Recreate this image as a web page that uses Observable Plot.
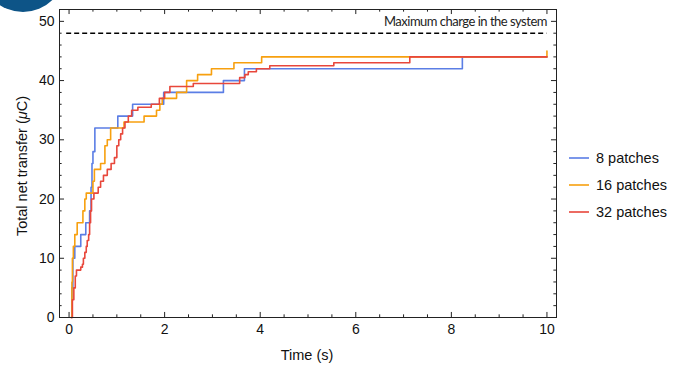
<!DOCTYPE html>
<html><head><meta charset="utf-8">
<script src="https://cdn.jsdelivr.net/npm/d3@7"></script>
<script src="https://cdn.jsdelivr.net/npm/@observablehq/plot@0.6"></script>
<style>
body{margin:0;background:#fff;}
#wrap{position:relative;width:683px;height:365px;overflow:hidden;font-family:"Liberation Sans",Arial,sans-serif;}
#badge{position:absolute;left:-19px;top:-72px;width:84px;height:84px;border-radius:50%;background:#0d5487;z-index:2;}
#legend{position:absolute;left:569px;top:144px;font-size:14.5px;color:#111;}
#legend .row{height:27px;display:flex;align-items:center;}
#legend svg{margin-right:7px;}
</style></head><body><div id="wrap"><div id="badge"></div><div id="legend"></div></div>
<script>
// ---- data ----
const seriesNames = ["8 patches", "16 patches", "32 patches"];
const seriesColors = ["#5b7ee5", "#f7a00f", "#e8473b"];

const blueT = [0.05,0.06,0.08,0.12,0.245,0.35,0.43,0.46,0.48,0.50,0.54,1.02,1.33,1.98,3.23,3.67,8.23,10];
const blueV = [0,5,10,12,14,16,18,22,26,28,32,34,36,38,40,42,44,44];

const orangeT = [0.05,0.06,0.07,0.09,0.12,0.17,0.29,0.33,0.36,0.50,0.53,0.66,0.75,0.80,0.87,1.15,1.57,1.83,1.90,1.95,2.25,2.46,2.69,2.98,3.45,4.03,10];
const orangeV = [0,6,10,12,14,16,18,20,21,23,25,26,29,30,32,33,34,35,36,37,38,40,41,42,43,44,45];

const redT = [0.04,0.07,0.10,0.13,0.155,0.245,0.28,0.30,0.33,0.36,0.38,0.41,0.43,0.45,0.47,0.52,0.61,0.66,0.72,0.80,0.88,0.95,1.00,1.04,1.08,1.12,1.17,1.24,1.31,1.44,1.72,1.89,2.00,2.11,2.60,3.57,3.68,3.75,3.92,4.20,5.54,7.13,10];
const redV = [0,3,5,7,8,8.5,9,10,11,12,13,14,16,18,20,21,22,23,24,25,26,27,29,30,31,32,33,34,35,35.5,36,37,38,39,39.5,40.5,41,41.5,42,42.5,43,44,44];

const maxCharge = 48;
const maxLabel = "Maximum charge in the system";
const xMajor = [0,2,4,6,8,10];
const yMajor = [0,10,20,30,40,50];
const xMinor = d3.range(0, 10.01, 0.5).filter(v => v % 2 !== 0);
const yMinor = d3.range(0, 52.01, 2).filter(v => v % 10 !== 0);

// ---- build table ----
const rows = [];
[[blueT, blueV], [orangeT, orangeV], [redT, redV]].forEach(([T, V], i) => {
  T.forEach((t, j) => rows.push({t, v: V[j], series: seriesNames[i]}));
});

const xDom = [-0.2, 10.2], yDom = [0, 52];
const majLenY = 0.85, minLenY = 0.45;   // tick lengths in y units (vertical ticks)
const majLenX = 0.105, minLenX = 0.055; // tick lengths in x units (horizontal ticks)

const chart = Plot.plot({
  width: 683, height: 365,
  marginLeft: 59, marginRight: 127, marginTop: 9, marginBottom: 48,
  style: {fontFamily: '"Liberation Sans", Arial, sans-serif', fontSize: "14px", color: "#111", background: "transparent"},
  x: {domain: xDom},
  y: {domain: yDom},
  color: {domain: seriesNames, range: seriesColors},
  marks: [
    Plot.line(rows, {x: "t", y: "v", stroke: "series", curve: "step-after", strokeWidth: 1.6}),
    Plot.ruleY([maxCharge], {stroke: "#000", strokeWidth: 1.6, strokeDasharray: "5,3", x1: -0.05, x2: 10.0}),
    Plot.text([maxLabel], {x: 10, y: maxCharge, dy: -11, textAnchor: "end", fontFamily: "Lato", fontSize: 13, fill: "#222"}),
    // bottom / top ticks
    Plot.ruleX(xMajor, {x: d => d, y1: 0, y2: majLenY, stroke: "#222"}),
    Plot.ruleX(xMinor, {x: d => d, y1: 0, y2: minLenY, stroke: "#222"}),
    Plot.ruleX(xMajor, {x: d => d, y1: yDom[1], y2: yDom[1] - majLenY, stroke: "#222"}),
    Plot.ruleX(xMinor, {x: d => d, y1: yDom[1], y2: yDom[1] - minLenY, stroke: "#222"}),
    // left / right ticks
    Plot.ruleY(yMajor, {y: d => d, x1: xDom[0], x2: xDom[0] + majLenX, stroke: "#222"}),
    Plot.ruleY(yMinor, {y: d => d, x1: xDom[0], x2: xDom[0] + minLenX, stroke: "#222"}),
    Plot.ruleY(yMajor, {y: d => d, x1: xDom[1], x2: xDom[1] - majLenX, stroke: "#222"}),
    Plot.ruleY(yMinor, {y: d => d, x1: xDom[1], x2: xDom[1] - minLenX, stroke: "#222"}),
    Plot.axisX({ticks: xMajor, tickSize: 0, tickPadding: 7, fontSize: 14, label: null}),
    Plot.axisY({ticks: yMajor, tickSize: 0, tickPadding: 5, fontSize: 14, label: null}),
    Plot.frame({stroke: "#222", strokeWidth: 1})
  ]
});
document.getElementById("wrap").prepend(chart);

const svg = d3.select(chart);
// tighten the annotation text to the reference's width
svg.selectAll("text").filter(function() { return this.textContent === maxLabel; })
  .attr("letter-spacing", "-0.5px");
// x label
svg.append("text")
  .attr("x", 307).attr("y", 360)
  .attr("text-anchor", "middle")
  .attr("font-family", '"Liberation Sans", Arial, sans-serif')
  .attr("font-size", 14.5).attr("fill", "#111")
  .text("Time (s)");
// y label with italic mu
const yl = svg.append("text")
  .attr("transform", "translate(27,166) rotate(-90)")
  .attr("text-anchor", "middle")
  .attr("font-family", '"Liberation Sans", Arial, sans-serif')
  .attr("font-size", 14.5)
  .attr("fill", "#111");
yl.append("tspan").text("Total net transfer (");
yl.append("tspan").attr("font-style", "italic").text("μ");
yl.append("tspan").text("C)");

// legend
const leg = d3.select("#legend");
seriesNames.forEach((n, i) => {
  const r = leg.append("div").attr("class", "row");
  r.append("svg").attr("width", 20).attr("height", 4)
    .append("line").attr("x1", 0).attr("x2", 20).attr("y1", 2).attr("y2", 2)
    .attr("stroke", seriesColors[i]).attr("stroke-width", 1.6);
  r.append("span").text(n);
});
</script>
</body></html>
